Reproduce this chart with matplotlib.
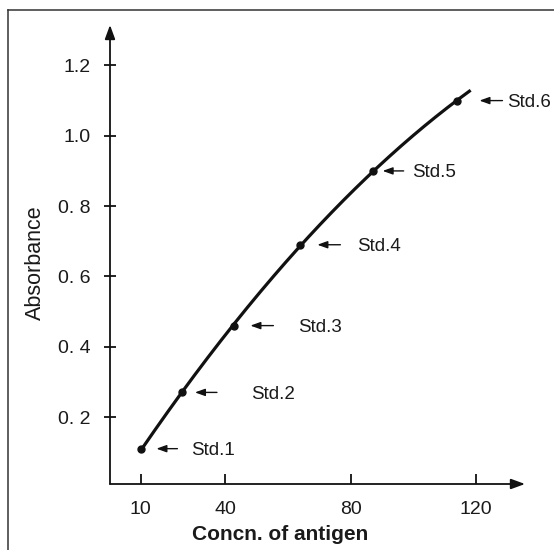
import numpy as np
import matplotlib
matplotlib.use("Agg")
import matplotlib.pyplot as plt
from matplotlib.lines import Line2D

# --- data ---
conc = [13.4, 26.3, 43.0, 64.0, 87.0, 114.0]
absorbance = [0.11, 0.27, 0.46, 0.69, 0.90, 1.10]
std_labels = ["Std.1", "Std.2", "Std.3", "Std.4", "Std.5", "Std.6"]
curve_end = 118.2

x_ticks = [13.2, 40, 80, 120]
x_tick_labels = ["10", "40", "80", "120"]
y_ticks = [0.2, 0.4, 0.6, 0.8, 1.0, 1.2]
y_tick_labels = ["0. 2", "0. 4", "0. 6", "0. 8", "1.0", "1.2"]

# label layout: pixel offsets (arrow head, arrow tail, text) right of each point
head_px = [15, 13, 16, 17, 10, 22]
tail_px = [36, 35, 39, 40, 31, 45]
text_px = [50, 69, 64, 57, 39, 50]

W, H = 554, 550
plt.rcParams["font.family"] = ["Liberation Sans", "DejaVu Sans"]

fig = plt.figure(figsize=(W / 100, H / 100), dpi=100)
ax = fig.add_axes([110 / W, 66 / H, (525 - 110) / W, (525 - 66) / H])
ax.set_xlim(3.4, 135.5)
ax.set_ylim(0.0095, 1.315)

# smooth standard curve through the points
coef = np.polyfit(conc, absorbance, 2)
xs = np.linspace(conc[0], curve_end, 200)
ax.plot(xs, np.polyval(coef, xs), color="#111111", lw=2.3, solid_capstyle="butt")
ax.plot(conc, absorbance, "o", color="#111111", ms=5)

for x, y, lab, h, t, tx in zip(conc, absorbance, std_labels, head_px, tail_px, text_px):
    ax.annotate("", xy=(x, y), xytext=(t, 0), textcoords="offset pixels",
                arrowprops=dict(arrowstyle="-|>,head_length=0.5,head_width=0.18",
                                color="#111111", lw=1.0, shrinkA=0, shrinkB=h * 0.72,
                                mutation_scale=12))
    ax.annotate(lab, xy=(x, y), xytext=(tx, 0), textcoords="offset pixels",
                va="center_baseline", ha="left", fontsize=13.5, color="#1a1a1a")

# axes drawn as arrows
for s in ax.spines.values():
    s.set_visible(False)
arrow_kw = dict(arrowstyle="-|>,head_length=0.6,head_width=0.22", color="#111111",
                lw=1.3, shrinkA=0, shrinkB=0, mutation_scale=14)
ax.annotate("", xy=(1, 0), xytext=(0, 0), xycoords="axes fraction", arrowprops=arrow_kw)
ax.annotate("", xy=(0, 1), xytext=(0, 0), xycoords="axes fraction", arrowprops=arrow_kw)

ax.set_xticks(x_ticks)
ax.set_xticklabels(x_tick_labels)
ax.set_yticks(y_ticks)
ax.set_yticklabels(y_tick_labels)
ax.tick_params(axis="x", direction="in", length=7, width=1.3, pad=12,
               labelsize=14, colors="#111111", labelcolor="#1a1a1a")
ax.tick_params(axis="y", direction="inout", length=8, width=1.3, pad=10,
               labelsize=14, colors="#111111", labelcolor="#1a1a1a")

fig.text(35 / W, 1 - 263 / H, "Absorbance", rotation=90, ha="center", va="center",
         fontsize=15.5, color="#1a1a1a")
fig.text(280 / W, 1 - 535 / H, "Concn. of antigen", ha="center", va="center",
         fontsize=15, fontweight="bold", color="#1a1a1a")

# outer frame (continues past right and bottom edges)
fy = 1 - 10 / H
fx = 8 / W
fig.add_artist(Line2D([fx, fx], [0, fy], transform=fig.transFigure, color="#333333", lw=1.1))
fig.add_artist(Line2D([fx, 1], [fy, fy], transform=fig.transFigure, color="#333333", lw=1.1))

fig.savefig("out.png", dpi=100)
